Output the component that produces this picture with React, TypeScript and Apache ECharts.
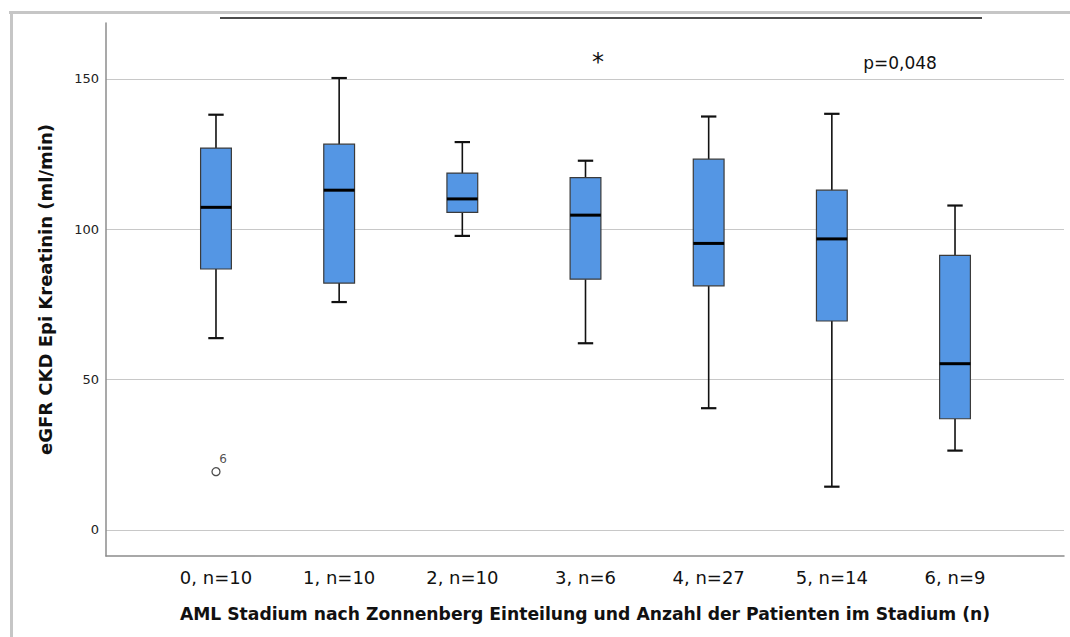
import React, { useEffect, useRef } from "react";
import * as echarts from "echarts";

// Stages with group sizes
const categories = ["0, n=10", "1, n=10", "2, n=10", "3, n=6", "4, n=27", "5, n=14", "6, n=9"];
// Box statistics per stage (eGFR, ml/min)
const lowWhisker = [63.8, 75.8, 97.8, 62.1, 40.5, 14.4, 26.4];
const q1 = [86.8, 82.1, 105.6, 83.4, 81.2, 69.5, 37.0];
const median = [107.3, 113.0, 110.1, 104.7, 95.3, 96.8, 55.3];
const q3 = [127.0, 128.3, 118.7, 117.2, 123.3, 113.0, 91.3];
const highWhisker = [138.1, 150.3, 129.0, 122.8, 137.5, 138.4, 107.9];
// Outliers: stage index, value, case label
const outlierStage = [0];
const outlierValue = [19.4];
const outlierCase = ["6"];
// Y tick labels
const yTicks = [0, 50, 100, 150];

const FONT = "DejaVu Sans";
const Y_MIN = -8.65;
const Y_MAX = 168.6;

export default function App() {
  const ref = useRef<HTMLDivElement>(null);

  useEffect(() => {
    if (!ref.current) return;
    const chart = echarts.init(ref.current, null, { renderer: "svg" });

    const boxData = categories.map((_, i) => [
      i,
      lowWhisker[i],
      q1[i],
      median[i],
      q3[i],
      highWhisker[i],
    ]);
    const outlierData = outlierStage.map((s, i) => ({
      value: [s, outlierValue[i]],
      caseLabel: outlierCase[i],
    }));

    const option: any = {
      animation: false,
      backgroundColor: "#ffffff",
      grid: [
        { left: 106, right: 6, top: 23, bottom: 81 },
        { left: 154.4, right: 53.4, top: 23, bottom: 81 },
      ],
      xAxis: [
        {
          gridIndex: 0,
          type: "value",
          min: 0,
          max: 1,
          axisLine: { show: true, onZero: false, lineStyle: { color: "#8c8c8c", width: 1.5 } },
          axisTick: { show: false },
          axisLabel: { show: false },
          splitLine: { show: false },
          name: "AML Stadium nach Zonnenberg Einteilung und Anzahl der Patienten im Stadium (n)",
          nameLocation: "middle",
          nameGap: 49,
          nameTextStyle: {
            fontFamily: FONT,
            fontWeight: "bold",
            fontSize: 17.2,
            color: "#111",
          },
        },
        {
          gridIndex: 1,
          type: "category",
          data: categories,
          axisLine: { show: false, onZero: false },
          axisTick: { show: false },
          splitLine: { show: false },
          axisLabel: {
            fontFamily: FONT,
            fontSize: 18,
            color: "#111",
            margin: 12,
          },
        },
      ],
      yAxis: [
        {
          gridIndex: 0,
          type: "value",
          min: Y_MIN,
          max: Y_MAX,
          axisLine: { show: true, onZero: false, lineStyle: { color: "#8c8c8c", width: 1.5 } },
          axisTick: { show: false, customValues: yTicks },
          axisLabel: {
            customValues: yTicks,
            fontFamily: FONT,
            fontSize: 13,
            color: "#222",
            margin: 7,
          },
          splitLine: { show: true, lineStyle: { color: "#c8c8c8", width: 1.2 } },
          name: "eGFR CKD Epi Kreatinin (ml/min)",
          nameLocation: "middle",
          nameRotate: 90,
          nameGap: 52,
          nameTextStyle: {
            fontFamily: FONT,
            fontWeight: "bold",
            fontSize: 18,
            color: "#111",
          },
        },
        {
          gridIndex: 1,
          type: "value",
          min: Y_MIN,
          max: Y_MAX,
          show: false,
          splitLine: { show: false },
        },
      ],
      series: [
        {
          type: "custom",
          xAxisIndex: 1,
          yAxisIndex: 1,
          data: boxData,
          encode: { x: 0, y: [1, 2, 3, 4, 5] },
          renderItem: (params: any, api: any) => {
            const idx = api.value(0);
            const band = api.size([1, 0])[0];
            const boxW = band * 0.25;
            const capW = boxW * 0.5;
            const pLow = api.coord([idx, api.value(1)]);
            const pQ1 = api.coord([idx, api.value(2)]);
            const pMed = api.coord([idx, api.value(3)]);
            const pQ3 = api.coord([idx, api.value(4)]);
            const pHigh = api.coord([idx, api.value(5)]);
            const cx = pMed[0];
            const whisker = { stroke: "#111", lineWidth: 1.6 };
            const cap = { stroke: "#111", lineWidth: 2.2 };
            return {
              type: "group",
              children: [
                { type: "line", shape: { x1: cx, y1: pHigh[1], x2: cx, y2: pQ3[1] }, style: whisker },
                { type: "line", shape: { x1: cx, y1: pQ1[1], x2: cx, y2: pLow[1] }, style: whisker },
                { type: "line", shape: { x1: cx - capW / 2, y1: pHigh[1], x2: cx + capW / 2, y2: pHigh[1] }, style: cap },
                { type: "line", shape: { x1: cx - capW / 2, y1: pLow[1], x2: cx + capW / 2, y2: pLow[1] }, style: cap },
                {
                  type: "rect",
                  shape: { x: cx - boxW / 2, y: pQ3[1], width: boxW, height: pQ1[1] - pQ3[1] },
                  style: { fill: "#5496e4", stroke: "#3b3b3b", lineWidth: 1.2 },
                },
                {
                  type: "line",
                  shape: { x1: cx - boxW / 2, y1: pMed[1], x2: cx + boxW / 2, y2: pMed[1] },
                  style: { stroke: "#000", lineWidth: 3 },
                },
              ],
            };
          },
        },
        {
          type: "scatter",
          xAxisIndex: 1,
          yAxisIndex: 1,
          data: outlierData,
          symbol: "circle",
          symbolSize: 8,
          itemStyle: { color: "#ffffff", borderColor: "#222", borderWidth: 1.3 },
          label: {
            show: true,
            position: [8, -14],
            formatter: (p: any) => p.data.caseLabel,
            fontFamily: FONT,
            fontSize: 12,
            color: "#222",
          },
        },
      ],
      graphic: [
        // frame
        { type: "line", shape: { x1: 9, y1: 12.5, x2: 1070, y2: 12.5 }, style: { stroke: "#c6c6c6", lineWidth: 3 } },
        { type: "line", shape: { x1: 11.5, y1: 11, x2: 11.5, y2: 637 }, style: { stroke: "#c6c6c6", lineWidth: 3 } },
        // significance bracket
        { type: "line", shape: { x1: 220, y1: 18, x2: 982, y2: 18 }, style: { stroke: "#111", lineWidth: 1.5 } },
        {
          type: "text",
          x: 598,
          y: 62,
          style: {
            text: "*",
            fontFamily: FONT,
            fontSize: 24,
            fill: "#111",
            align: "center",
            verticalAlign: "middle",
          },
        },
        {
          type: "text",
          x: 900,
          y: 63,
          style: {
            text: "p=0,048",
            fontFamily: FONT,
            fontSize: 17,
            fill: "#111",
            align: "center",
            verticalAlign: "middle",
          },
        },
      ],
    };

    chart.setOption(option);
    return () => chart.dispose();
  }, []);

  return (
    <div
      ref={ref}
      style={{ position: "fixed", left: 0, top: 0, width: 1070, height: 637, background: "#fff" }}
    />
  );
}
